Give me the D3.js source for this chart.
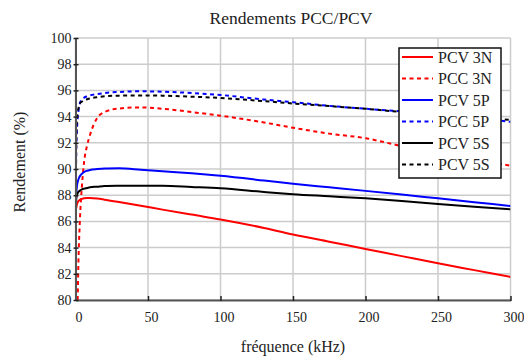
<!DOCTYPE html>
<html>
<head>
<meta charset="utf-8">
<script src="https://cdn.jsdelivr.net/npm/d3@7"></script>
<style>
  body { margin: 0; background: #fff; }
  text { font-family: "Liberation Serif", "Times New Roman", serif; fill: #222; }
</style>
</head>
<body>
<svg width="524" height="356"></svg>
<script>
// fréquence (kHz)
const freq = [0.2, 0.5, 1, 1.5, 2, 3, 4.5, 6, 8, 10, 15, 20, 30, 45, 60, 80, 100, 130, 150, 175, 200, 225, 250, 275, 300];

const pcv3N = [null, 87.0, 87.3, 87.45, 87.55, 87.65, 87.72, 87.76, 87.78, 87.78, 87.74, 87.66, 87.48, 87.2, 86.9, 86.52, 86.15, 85.5, 85.0, 84.45, 83.9, 83.35, 82.8, 82.28, 81.76];
const pcc3N = [null, null, null, 80.0, 82.8, 86.0, 88.8, 90.6, 91.8, 92.6, 93.9, 94.35, 94.62, 94.7, 94.6, 94.35, 94.07, 93.55, 93.15, 92.7, 92.35, 91.75, 91.25, 90.75, 90.25];
const pcv5P = [87.0, 88.0, 88.7, 89.0, 89.2, 89.45, 89.65, 89.78, 89.87, 89.93, 90.0, 90.04, 90.05, 89.95, 89.83, 89.67, 89.48, 89.12, 88.87, 88.6, 88.33, 88.05, 87.76, 87.47, 87.18];
const pcc5P = [87.5, 91.3, 93.0, 93.9, 94.4, 95.0, 95.3, 95.45, 95.55, 95.62, 95.72, 95.8, 95.88, 95.93, 95.9, 95.8, 95.65, 95.3, 95.1, 94.82, 94.6, 94.4, 94.15, 93.9, 93.6];
const pcv5S = [86.8, 87.7, 88.0, 88.15, 88.25, 88.35, 88.45, 88.5, 88.55, 88.6, 88.65, 88.7, 88.72, 88.73, 88.72, 88.63, 88.53, 88.25, 88.08, 87.92, 87.76, 87.55, 87.33, 87.12, 86.92];
const pcc5S = [87.0, 92.0, 93.8, 94.3, 94.6, 95.0, 95.15, 95.25, 95.32, 95.38, 95.48, 95.55, 95.6, 95.62, 95.6, 95.52, 95.42, 95.18, 95.0, 94.8, 94.6, 94.35, 94.15, 93.95, 93.75];

const seriesNames = ["PCV 3N", "PCC 3N", "PCV 5P", "PCC 5P", "PCV 5S", "PCV 5S"];
const seriesColors = ["#ff0000", "#ff0000", "#0000ff", "#0000ff", "#000000", "#000000"];
const seriesDashed = [false, true, false, true, false, true];
const seriesValues = [pcv3N, pcc3N, pcv5P, pcc5P, pcv5S, pcc5S];

const xTicks = [0, 50, 100, 150, 200, 250, 300];
const yTicks = [80, 82, 84, 86, 88, 90, 92, 94, 96, 98, 100];

const svg = d3.select("svg");
const plotL = 75.5, plotR = 510.5, plotT = 38, plotB = 300;

const x = d3.scaleLinear().domain([0, 300]).range([plotL, plotR]);
const y = d3.scaleLinear().domain([80, 100]).range([plotB, plotT]);

// grille
const grid = svg.append("g");
grid.selectAll("line.gx").data(xTicks).enter().append("line")
  .attr("x1", d => x(d)).attr("x2", d => x(d))
  .attr("y1", plotT).attr("y2", plotB)
  .attr("stroke", "#cccccc").attr("stroke-width", 1.5);
grid.selectAll("line.gy").data(yTicks).enter().append("line")
  .attr("x1", plotL).attr("x2", plotR)
  .attr("y1", d => y(d)).attr("y2", d => y(d))
  .attr("stroke", "#cccccc").attr("stroke-width", 1.5);

svg.append("clipPath").attr("id", "clip")
  .append("rect").attr("x", plotL).attr("y", plotT)
  .attr("width", plotR - plotL).attr("height", plotB - plotT);

const line = d3.line()
  .defined(d => d[1] != null)
  .x(d => x(d[0]))
  .y(d => y(d[1]))
  .curve(d3.curveMonotoneX);

const curves = svg.append("g").attr("clip-path", "url(#clip)");
seriesValues.forEach((vals, i) => {
  curves.append("path")
    .datum(freq.map((f, j) => [f, vals[j]]))
    .attr("fill", "none")
    .attr("stroke", seriesColors[i])
    .attr("stroke-width", 2)
    .attr("stroke-dasharray", seriesDashed[i] ? "4,3.5" : null)
    .attr("d", line);
});

// axes
const xAxis = svg.append("g").attr("transform", "translate(0," + plotB + ")")
  .call(d3.axisBottom(x).tickValues(xTicks).tickSize(0).tickPadding(12));
xAxis.select(".domain").attr("stroke", "#555").attr("stroke-width", 2);
xAxis.selectAll(".tick line").attr("y1", -4).attr("y2", 1).attr("stroke", "#222").attr("stroke-width", 1.5);
xAxis.selectAll(".tick text").attr("dx", 3)
  .style("font-family", "Liberation Serif").style("font-size", "14px").attr("fill", "#222");

const yAxis = svg.append("g").attr("transform", "translate(" + plotL + ",0)")
  .call(d3.axisLeft(y).tickValues(yTicks).tickSize(0).tickPadding(4));
yAxis.select(".domain").attr("stroke", "#555").attr("stroke-width", 2);
yAxis.selectAll(".tick line").attr("x1", -2).attr("x2", 3).attr("stroke", "#222").attr("stroke-width", 1.5);
yAxis.selectAll(".tick text")
  .style("font-family", "Liberation Serif").style("font-size", "14px").attr("fill", "#222");

// titres
svg.append("text").attr("x", 291).attr("y", 24).attr("text-anchor", "middle")
  .style("font-size", "17.5px").text("Rendements PCC/PCV");
svg.append("text").attr("transform", "translate(25,162) rotate(-90)")
  .attr("text-anchor", "middle").style("font-size", "16px").text("Rendement (%)");
svg.append("text").attr("x", 293).attr("y", 352).attr("text-anchor", "middle")
  .style("font-size", "16px").text("fréquence (kHz)");

// légende
const legend = svg.append("g");
legend.append("rect").attr("x", 399).attr("y", 48).attr("width", 102).attr("height", 130)
  .attr("fill", "#fff").attr("stroke", "#111").attr("stroke-width", 1.5);
const rows = legend.selectAll("g.row").data(seriesNames).enter().append("g")
  .attr("transform", (d, i) => "translate(0," + (57 + i * 21.5) + ")");
rows.append("line").attr("x1", 402).attr("x2", 433).attr("y1", 0).attr("y2", 0)
  .attr("stroke", (d, i) => seriesColors[i]).attr("stroke-width", 2)
  .attr("stroke-dasharray", (d, i) => seriesDashed[i] ? "4,3.5" : null);
rows.append("text").attr("x", 438).attr("y", 0).attr("dy", "0.35em")
  .style("font-size", "16px").text(d => d);
</script>
</body>
</html>
